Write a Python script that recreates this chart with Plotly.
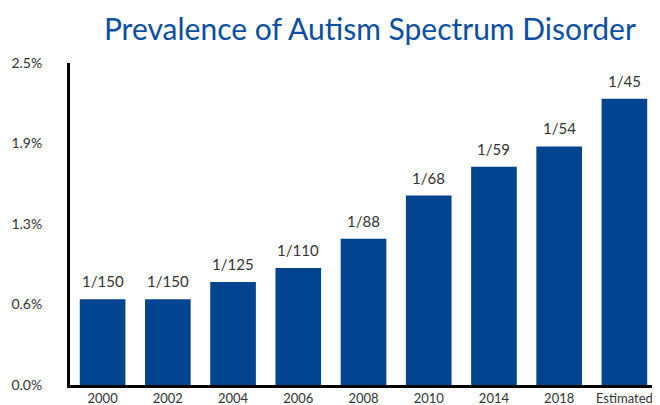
import plotly.graph_objects as go

categories = ["2000", "2002", "2004", "2006", "2008", "2010", "2014", "2018", "Estimated"]
ratio_labels = ["1/150", "1/150", "1/125", "1/110", "1/88", "1/68", "1/59", "1/54", "1/45"]
denominators = [150, 150, 125, 110, 88, 68, 59, 54, 45]
prevalence = [100.0 / d for d in denominators]
tick_vals = [0, 0.625, 1.25, 1.875, 2.5]
tick_text = ["0.0%", "0.6%", "1.3%", "1.9%", "2.5%"]

bar_color = "#034491"
title_color = "#0b4ea2"
text_color = "#333333"
font_family = "Lato, Open Sans, sans-serif"

fig = go.Figure()
fig.add_trace(go.Bar(
    x=categories, y=prevalence,
    marker=dict(color=bar_color, line=dict(width=0)),
    hoverinfo="skip",
))
for i, (v, t) in enumerate(zip(prevalence, ratio_labels)):
    fig.add_annotation(x=i, y=v, text=t, showarrow=False, yanchor="bottom",
                       yshift=7, font=dict(family=font_family, size=15, color=text_color))

# page body adds ~8px offset; figure sized to fill the remaining window
fig.update_layout(
    width=652, height=397,
    margin=dict(l=62, r=3, t=55, b=20),
    paper_bgcolor="white", plot_bgcolor="white",
    bargap=0.3,
    showlegend=False,
    title=dict(text="Prevalence of Autism Spectrum Disorder", x=0.555, xanchor="center",
               y=0.945, yanchor="middle",
               font=dict(family=font_family, size=30, color=title_color)),
    xaxis=dict(type="category", range=[-0.5, len(categories) - 0.5], automargin=False,
               showline=True, linecolor="black", linewidth=3, showgrid=False,
               ticks="", tickfont=dict(family=font_family, size=13, color=text_color),
               ticklabelstandoff=-1),
    yaxis=dict(range=[0, 2.5], tickvals=tick_vals, ticktext=tick_text, automargin=False,
               showline=True, linecolor="black", linewidth=3, showgrid=False,
               zeroline=False, ticks="", ticklabelstandoff=22,
               tickfont=dict(family=font_family, size=14, color=text_color)),
)

fig.write_html("out.html")
